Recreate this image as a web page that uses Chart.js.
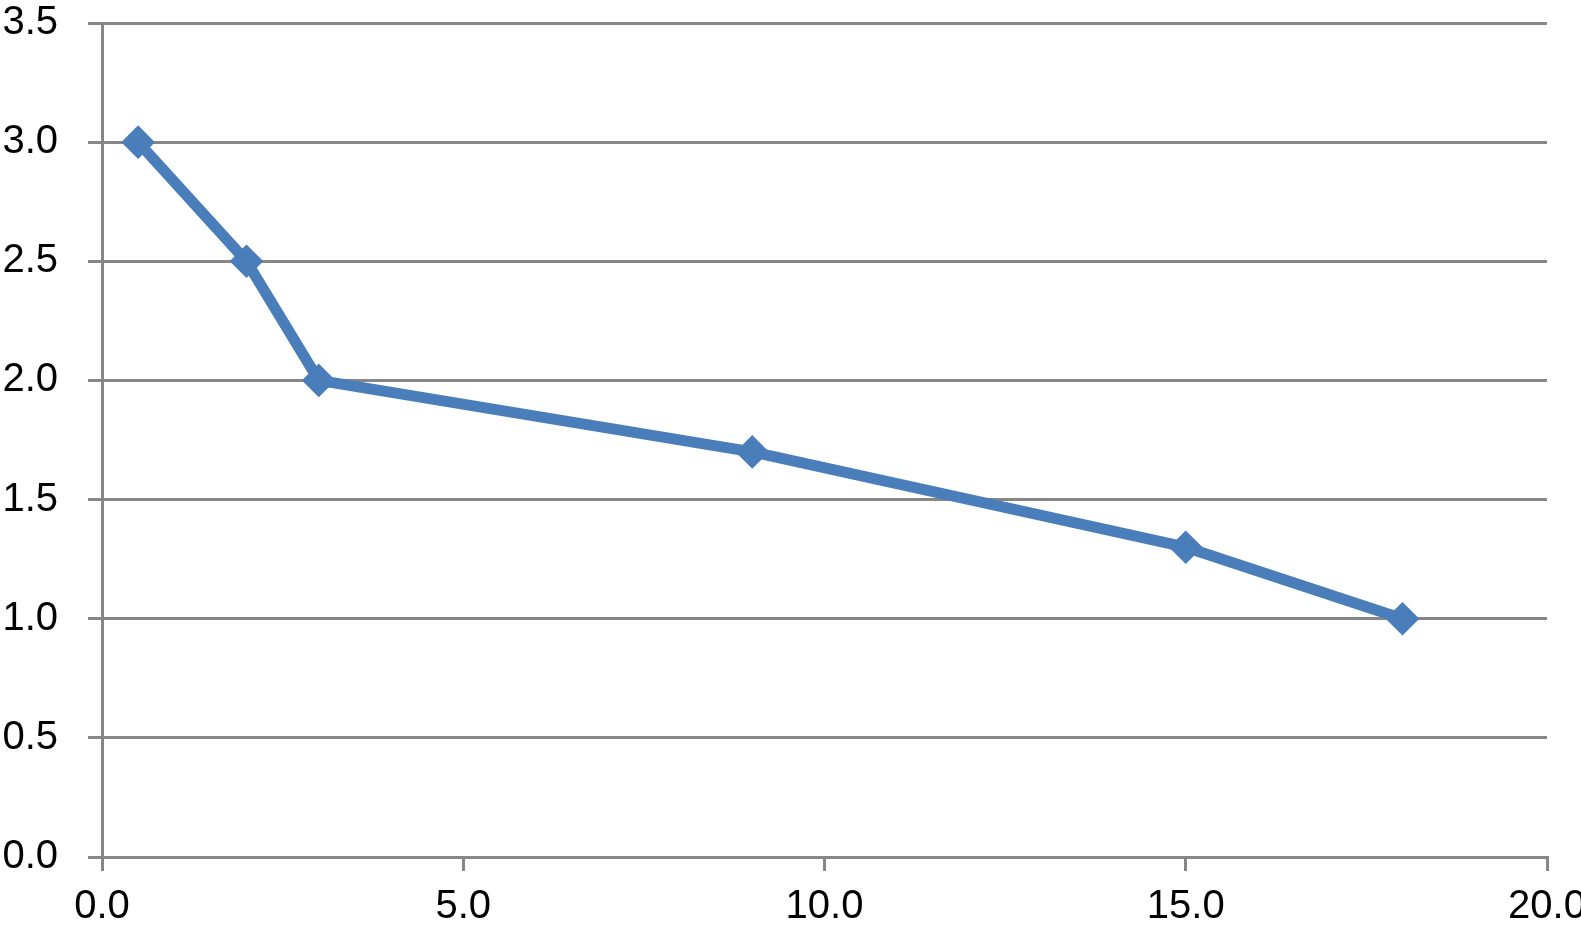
<!DOCTYPE html>
<html>
<head>
<meta charset="utf-8">
<script src="https://cdn.jsdelivr.net/npm/chart.js@4"></script>
<style>
  html, body { margin: 0; padding: 0; background: #fff; }
  #wrap { width: 1581px; height: 925px; }
</style>
</head>
<body>
<div id="wrap"><canvas id="chart" width="1581" height="925"></canvas></div>
<script>
// data
const xValues = [0.5, 2, 3, 9, 15, 18];
const yValues = [3.0, 2.5, 2.0, 1.7, 1.3, 1.0];
const xTicks = [0, 5, 10, 15, 20];
const yTicks = [0, 0.5, 1, 1.5, 2, 2.5, 3, 3.5];

const gridGray = '#878787';
const lineBlue = '#4a7ebb';

const points = xValues.map((x, i) => ({ x: x, y: yValues[i] }));

new Chart(document.getElementById('chart').getContext('2d'), {
    type: 'line',
    data: {
        datasets: [{
            data: points,
            borderColor: lineBlue,
            backgroundColor: lineBlue,
            borderWidth: 11,
            borderJoinStyle: 'round',
            pointStyle: 'rectRot',
            pointRadius: 14,
            pointBorderWidth: 4,
            pointBorderColor: lineBlue,
            pointBackgroundColor: lineBlue,
            tension: 0
        }]
    },
    options: {
        responsive: false,
        animation: false,
        layout: { padding: { left: 0, right: 34, top: 23, bottom: 0 } },
        plugins: { legend: { display: false }, tooltip: { enabled: false } },
        scales: {
            x: {
                type: 'linear',
                min: xTicks[0],
                max: xTicks[xTicks.length - 1],
                afterBuildTicks: s => { s.ticks = xTicks.map(v => ({ value: v })); },
                afterFit: s => { s.height = 68; s.paddingLeft = 0; s.paddingRight = 0; },
                ticks: {
                    callback: v => v.toFixed(1),
                    color: '#000',
                    font: { family: 'Liberation Sans', size: 40 },
                    padding: 12,
                    maxRotation: 0,
                    autoSkip: false
                },
                grid: { drawOnChartArea: false, drawTicks: true, tickLength: 14, color: gridGray, lineWidth: 3 },
                border: { display: true, color: gridGray, width: 3 }
            },
            y: {
                min: yTicks[0],
                max: yTicks[yTicks.length - 1],
                afterBuildTicks: s => { s.ticks = yTicks.map(v => ({ value: v })); },
                afterFit: s => { s.width = 102; s.paddingTop = 0; s.paddingBottom = 0; },
                ticks: {
                    callback: v => v.toFixed(1),
                    color: '#000',
                    font: { family: 'Liberation Sans', size: 40 },
                    padding: 30,
                    autoSkip: false
                },
                grid: { drawTicks: true, tickLength: 14, color: gridGray, lineWidth: 3 },
                border: { display: true, color: gridGray, width: 3 }
            }
        }
    }
});
</script>
</body>
</html>
